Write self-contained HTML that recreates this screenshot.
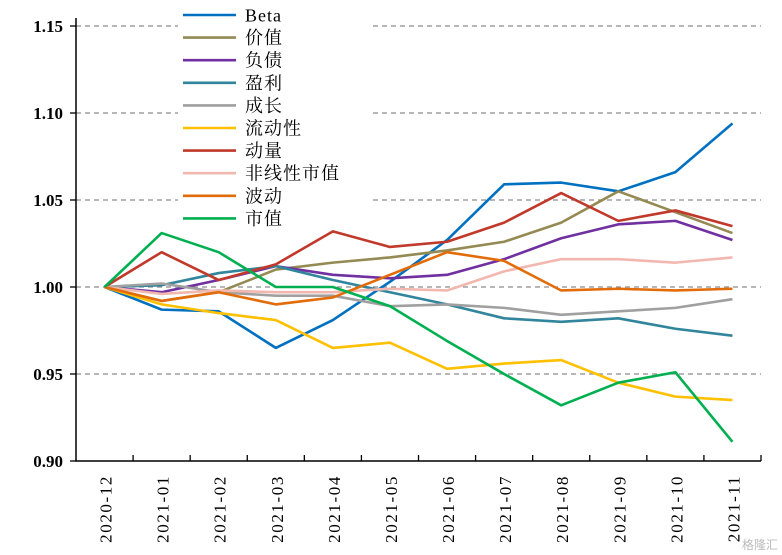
<!DOCTYPE html>
<html><head><meta charset="utf-8"><style>
body{margin:0;background:#fff;}
svg{display:block;font-family:"Liberation Serif","Noto Serif CJK SC",serif;}
</style></head><body>
<svg id="chart" width="782" height="555"></svg>
<script>
const categories=["2020-12","2021-01","2021-02","2021-03","2021-04","2021-05","2021-06","2021-07","2021-08","2021-09","2021-10","2021-11"];
const yTicks=[0.90,0.95,1.00,1.05,1.10,1.15];
const seriesNames=["Beta","价值","负债","盈利","成长","流动性","动量","非线性市值","波动","市值"];
const seriesColors=["#0070c0","#948a54","#7030a0","#31859c","#a0a0a0","#ffc000","#c0392b","#f2b8b0","#e36c0a","#00b050"];
const beta=[1,0.987,0.986,0.965,0.981,1.003,1.027,1.059,1.060,1.055,1.066,1.094];
const value=[1,0.992,0.997,1.010,1.014,1.017,1.021,1.026,1.037,1.055,1.043,1.031];
const leverage=[1,0.997,1.004,1.012,1.007,1.005,1.007,1.016,1.028,1.036,1.038,1.027];
const earnings=[1,1.001,1.008,1.012,1.004,0.997,0.990,0.982,0.980,0.982,0.976,0.972];
const growth=[1,1.002,0.997,0.995,0.995,0.989,0.990,0.988,0.984,0.986,0.988,0.993];
const liquidity=[1,0.990,0.985,0.981,0.965,0.968,0.953,0.956,0.958,0.945,0.937,0.935];
const momentum=[1,1.020,1.004,1.013,1.032,1.023,1.026,1.037,1.054,1.038,1.044,1.035];
const nlsize=[1,0.996,0.998,0.997,0.997,0.999,0.998,1.009,1.016,1.016,1.014,1.017];
const volatility=[1,0.992,0.997,0.990,0.994,1.007,1.020,1.015,0.998,0.999,0.998,0.999];
const size=[1,1.031,1.020,1.000,1.000,0.989,0.969,0.950,0.932,0.945,0.951,0.911];
const allSeries=[beta,value,leverage,earnings,growth,liquidity,momentum,nlsize,volatility,size];

const NS="http://www.w3.org/2000/svg";
const svg=document.getElementById('chart');
const L=76,R=761,T=26,B=461,yMin=0.90,yMax=1.15;
const band=(R-L)/categories.length;
const xs=i=>L+band*(i+0.5);
const ys=v=>B-(v-yMin)/(yMax-yMin)*(B-T);
function mk(t,a){const e=document.createElementNS(NS,t);for(const k in a)e.setAttribute(k,a[k]);svg.appendChild(e);return e;}

yTicks.forEach((t,i)=>{
  const y=ys(t);
  if(t>yMin){
    const g=mk('line',{x1:L,x2:R,y1:y,y2:y,stroke:'#8c8c8c','stroke-width':1.3,'stroke-dasharray':'5,4'});
    
    
  }
  const tk=mk('line',{x1:L-6,x2:L,y1:y,y2:y,stroke:'#000','stroke-width':1.3});
  
  
  const tx=mk('text',{x:63,y:y+6,'text-anchor':'end','font-size':17,'font-weight':'bold',fill:'#000'});
  tx.textContent=t.toFixed(2);
  
  
});
categories.forEach((c,i)=>{
  const xt=L+band*(i+1);
  const tk=mk('line',{x1:xt,x2:xt,y1:B-6,y2:B,stroke:'#000','stroke-width':1.3});
  
  
  const x=xs(i)+7;
  const tx=mk('text',{x:x,y:475,'text-anchor':'end','font-size':17,'letter-spacing':'1.6',fill:'#000',transform:`rotate(-90 ${x} 475)`});
  tx.textContent=c;
  
  
});
const ax=mk('path',{d:`M${L},${T-8}V${B}H${R}`,fill:'none',stroke:'#000','stroke-width':1.5});



const lb=mk('rect',{x:178,y:4,width:195,height:226,fill:'#fff'});



allSeries.forEach((s,k)=>{
  const p=mk('polyline',{points:s.map((v,i)=>xs(i)+','+ys(v)).join(' '),fill:'none',stroke:seriesColors[k],'stroke-width':2.6,'stroke-linejoin':'round'});
  
  
  const ly=15+k*22.6;
  const ll=mk('line',{x1:183,x2:236,y1:ly,y2:ly,stroke:seriesColors[k],'stroke-width':2.6});
  
  
  const lt=mk('text',{x:245,y:ly+6.5,'font-size':18,fill:'#000','letter-spacing':'1'});
  lt.textContent=seriesNames[k];
  
  
});
const wm=mk('text',{x:778,y:549,'text-anchor':'end','font-size':12,fill:'#bbb','font-family':'"Liberation Sans","Noto Sans CJK SC",sans-serif'});
wm.textContent='格隆汇';


</script>
</body></html>
